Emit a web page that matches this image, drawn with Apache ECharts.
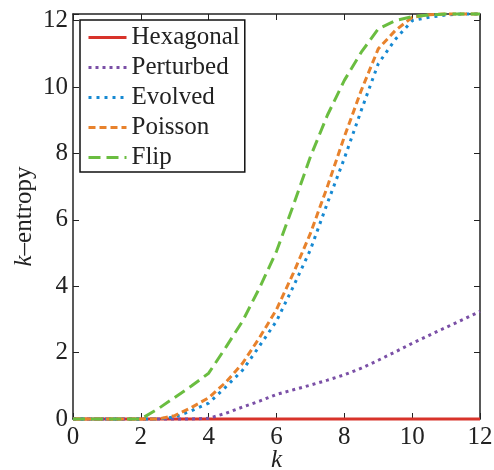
<!DOCTYPE html>
<html>
<head>
<meta charset="utf-8">
<script src="https://cdn.jsdelivr.net/npm/echarts@6/dist/echarts.min.js"></script>
<style>
html,body{margin:0;padding:0;background:#fff;}
#main{width:494px;height:470px;}
</style>
</head>
<body>
<div id="main"></div>
<script>
var ks = [0,0.5,1,1.5,2,2.5,3,3.5,4,4.5,5,5.5,6,6.5,7,7.5,8,8.5,9,9.5,10,10.5,11,11.5,12];
var hexagonal = [0,0,0,0,0,0,0,0,0,0,0,0,0,0,0,0,0,0,0,0,0,0,0,0,0];
var perturbed = [0,0,0,0,0,0,0,0,0.02,0.17,0.36,0.54,0.74,0.88,1.02,1.17,1.33,1.53,1.77,2.02,2.28,2.52,2.76,3.0,3.24];
var evolved   = [0,0,0,0,0,0,0.06,0.25,0.48,0.96,1.47,2.2,2.95,4.0,5.1,6.5,7.85,9.3,10.7,11.43,12.0,12.1,12.17,12.2,12.2];
var poisson   = [0,0,0,0,0,0,0.1,0.35,0.64,1.1,1.68,2.45,3.3,4.4,5.59,7.0,8.5,9.9,11.15,11.7,12.1,12.18,12.2,12.2,12.2];
var flip      = [0,0,0,0,0,0.3,0.65,1.0,1.38,2.15,2.95,3.95,5.05,6.45,7.9,9.15,10.2,11.05,11.75,12.0,12.12,12.17,12.2,12.2,12.2];
var seriesNames = ['Hexagonal','Perturbed','Evolved','Poisson','Flip'];

function pairs(vals){ return ks.map(function(k,i){ return [k, vals[i]]; }); }

var FONT = 'Liberation Serif';
var FS = 25;
var chart = echarts.init(document.getElementById('main'), null, {renderer:'canvas'});

var styles = [
  {color:'#d8332a', type:'solid'},
  {color:'#7a4fa6', type:[3,4]},
  {color:'#1689d2', type:[3,5]},
  {color:'#e8822c', type:[7,4]},
  {color:'#6abd40', type:[12,6]}
];
var dataSets = [hexagonal, perturbed, evolved, poisson, flip];

function axisBase(){
  return {
    type:'value', min:0, interval:2,
    axisLine:{show:true, onZero:false, lineStyle:{color:'#222', width:1.5}},
    axisTick:{show:true, inside:true, length:6, lineStyle:{color:'#222', width:1}},
    splitLine:{show:false}
  };
}

chart.setOption({
  backgroundColor:'#fff',
  animation:false,
  grid:{left:73, right:14, top:14, bottom:51, containLabel:false, outerBoundsMode:'none'},
  legend:{
    show:true,
    orient:'vertical', left:80, top:20,
    data:seriesNames,
    itemWidth:38, itemHeight:14, itemGap:5,
    padding:[5,5,2,7],
    borderColor:'#111', borderWidth:1.5, backgroundColor:'#fff',
    itemStyle:{opacity:0},
    lineStyle:{width:3},
    textStyle:{fontFamily:FONT, fontSize:FS, color:'#222'}
  },
  xAxis:[
    Object.assign(axisBase(), {
      max:12, position:'bottom',
      axisLabel:{fontFamily:FONT, fontSize:FS, color:'#222', margin:6},
      name:'k', nameLocation:'middle', nameGap:29, nameMoveOverlap:false,
      nameTextStyle:{fontFamily:FONT, fontSize:FS, fontStyle:'italic', color:'#222'}
    }),
    Object.assign(axisBase(), {max:12, position:'top', axisLabel:{show:false}})
  ],
  yAxis:[
    Object.assign(axisBase(), {
      max:12.2, position:'left',
      axisLabel:{fontFamily:FONT, fontSize:FS, color:'#222', margin:5,
        formatter:function(v){ return (Math.round(v) % 2 === 0 && Math.abs(v-Math.round(v))<1e-6) ? String(v) : ''; }},
      name:'{i|k}{n|–entropy}', nameLocation:'middle', nameGap:36, nameMoveOverlap:false,
      nameTextStyle:{fontFamily:FONT, fontSize:FS, color:'#222',
        rich:{i:{fontFamily:FONT, fontSize:FS, fontStyle:'italic', color:'#222'},
              n:{fontFamily:FONT, fontSize:FS, color:'#222'}}}
    }),
    Object.assign(axisBase(), {max:12.2, position:'right', axisLabel:{show:false}})
  ],
  series: seriesNames.map(function(n,i){
    return {
      name:n, type:'line', data:pairs(dataSets[i]),
      showSymbol:false, symbol:'none', smooth:false, clip:false,
      lineStyle:{color:styles[i].color, width:3, type:styles[i].type},
      itemStyle:{color:styles[i].color},
      z: 2 + i
    };
  })
});
</script>
</body>
</html>
